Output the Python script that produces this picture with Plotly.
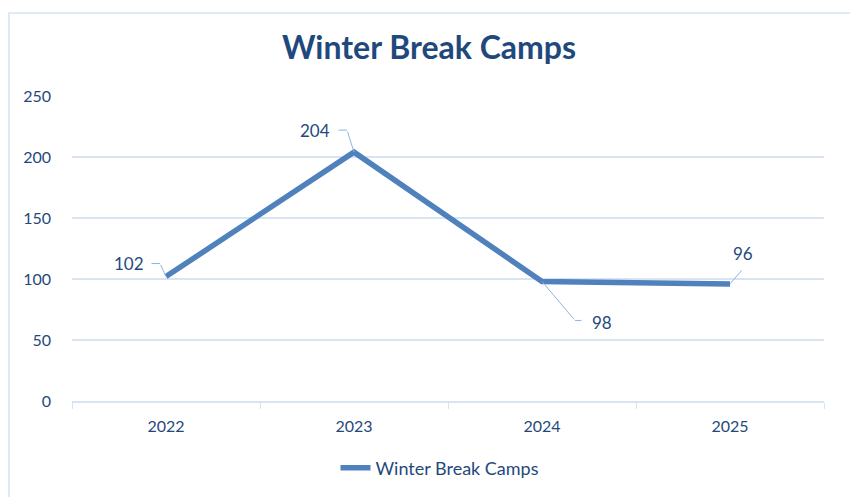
import plotly.graph_objects as go

years = ["2022", "2023", "2024", "2025"]
camps = [102, 204, 98, 96]
series_name = "Winter Break Camps"
y_ticks = [0, 50, 100, 150, 200, 250]

# leader lines: (dx1, dy1) first segment from the point, then horizontal length h (pixels, y up)
leaders = [(-6, 13, -10), (-7, 22, -10), (33, -39, 8), (13, 15, 0)]
# label offsets (pixels, y up) relative to the point
label_offsets = [(-37, 13), (-39, 22), (60, -41), (13, 30)]

TXT = "#1F497D"
GRID = "#D9E4F2"
LINE = "#4F81BD"
LEAD = "#8DB4E2"
FONT = "Lato"

fig = go.Figure()
fig.add_trace(go.Scatter(
    x=years, y=camps, mode="lines", name=series_name,
    line=dict(color=LINE, width=5.5),
))

for i, v in enumerate(camps):
    dx, dy, h = leaders[i]
    fig.add_annotation(x=i, y=v, xref="x", yref="y", text="", showarrow=True,
                       axref="pixel", ayref="pixel", ax=dx, ay=-dy, arrowhead=0,
                       arrowwidth=1, arrowcolor=LEAD, standoff=0, startstandoff=0)
    if h:
        fig.add_annotation(x=i, y=v, xref="x", yref="y", text="", showarrow=True,
                           xshift=dx, yshift=dy, ax=h, ay=0, arrowhead=0,
                           arrowwidth=1, arrowcolor=LEAD, standoff=0, startstandoff=0)
    lx, ly = label_offsets[i]
    fig.add_annotation(x=i, y=v, xref="x", yref="y", text=str(v), showarrow=False,
                       xshift=lx, yshift=ly, font=dict(family=FONT, size=17, color=TXT))

L, R, T, B = 64, 42, 88, 104
W, H = 858, 497
pw, ph = W - L - R, H - T - B
fig.add_shape(type="rect", xref="paper", yref="paper",
              x0=(1 - L) / pw, x1=(845 - L) / pw,
              y0=(H - B - 510) / ph, y1=(H - B - 5) / ph,
              line=dict(color="#D6E3F3", width=1.5), fillcolor="rgba(0,0,0,0)", layer="below")

fig.update_layout(
    width=W, height=H,
    margin=dict(l=L, r=R, t=T, b=B),
    paper_bgcolor="white", plot_bgcolor="white",
    title=dict(text="<b>Winter Break Camps</b>", x=(429 - 8) / W, xanchor="center",
               y=1 - 40 / H, yanchor="middle",
               font=dict(family=FONT, size=32, color=TXT)),
    font=dict(family=FONT, size=16, color=TXT),
    showlegend=True,
    legend=dict(orientation="h", x=(440 - 8 - L) / pw, xanchor="center",
                y=-(460 - (H - B)) / ph, yanchor="middle",
                font=dict(family=FONT, size=18, color=TXT)),
    xaxis=dict(type="category", range=[-0.5, 3.5], showgrid=False, showline=True, linecolor=GRID,
               linewidth=1.5, ticks="outside", tickson="boundaries", ticklen=6, tickcolor=GRID,
               ticklabelstandoff=10,
               tickfont=dict(family=FONT, size=16, color=TXT), fixedrange=True),
    yaxis=dict(range=[0, 250], tickvals=y_ticks, showgrid=True, gridcolor=GRID, gridwidth=1.5,
               zeroline=False, showline=False, ticks="", ticklabelstandoff=20,
               tickfont=dict(family=FONT, size=16, color=TXT), fixedrange=True),
)

fig.write_html("out.html")
